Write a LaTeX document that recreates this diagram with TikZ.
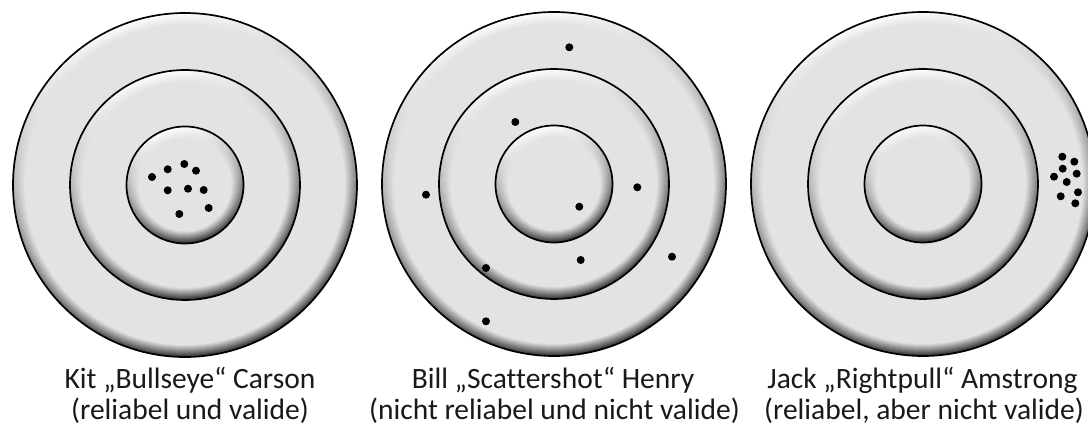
\documentclass[tikz,border=0pt]{standalone}
\usepackage{fontspec}
\setmainfont{Carlito}[Ligatures=CommonOff]
\definecolor{base}{gray}{0.89}
\colorlet{dk}{black!80}
\tikzset{
  dot/.style={circle, fill=black, inner sep=0pt, minimum size=8pt},
  ringline/.style={draw=black, line width=1.7pt},
  lbl/.style={font=\fontsize{29.5}{31}\selectfont, inner sep=0pt, anchor=base, text=black!90}
}
\newcommand\bevdisc[2]{%
  \foreach \k in {0,...,11}{%
    \pgfmathtruncatemacro\f{8.5*\k}%
    \pgfmathsetmacro\r{#2-\k}%
    \shade[top color=base!\f!white, bottom color=base!\f!dk, shading angle=15] (#1) circle[radius=\r pt];
  }
  \fill[base] (#1) circle[radius=#2pt-12pt];
  \draw[ringline] (#1) circle[radius=#2pt];
}
\newcommand\target[1]{%
  \bevdisc{#1}{172}
  \bevdisc{#1}{115}
  \bevdisc{#1}{58.5}
}
\begin{document}
\begin{tikzpicture}[x=1pt,y=-1pt]
\useasboundingbox (0,0) rectangle (1088,427);
\clip (0,0) rectangle (1088,427);
\fill[white] (0,0) rectangle (1088,427);
\coordinate (c1) at (185,185);
\coordinate (c2) at (554,184);
\coordinate (c3) at (923,184);
\target{c1}
\target{c2}
\target{c3}
% target 1 dots
\foreach \x/\y [count=\i] in {152/177, 167.7/169.3, 184.3/164, 196/170.7, 167.7/190.3, 188/188.7, 203.7/190, 179.3/214, 208.7/208}
  \node[dot] (a\i) at (\x,\y) {};
% target 2 dots
\foreach \x/\y [count=\i] in {569.3/47.3, 515.3/122, 426/194.7, 637.3/187.3, 579.3/206.7, 486/268, 580.7/260, 672/256.7, 486/321.3}
  \node[dot] (b\i) at (\x,\y) {};
% target 3 dots
\foreach \x/\y [count=\i] in {1062.3/156.7, 1074.3/161.7, 1062.7/168.7, 1076.7/173.7, 1054/176.7, 1066.7/182, 1060.7/196.3, 1078/192.3, 1075.3/203.3}
  \node[dot] (d\i) at (\x,\y) {};
% labels
\node[lbl] (t1a) at (190,389) {Kit „Bullseye“ Carson};
\node[lbl] (t1b) at (190,420) {(reliabel und valide)};
\node[lbl] (t2a) at (553,389) {Bill „Scattershot“ Henry};
\node[lbl] (t2b) at (554.5,420) {(nicht reliabel und nicht valide)};
\node[lbl] (t3a) at (922.5,389) {Jack „Rightpull“ Amstrong};
\node[lbl] (t3b) at (924,420) {(reliabel, aber nicht valide)};
\end{tikzpicture}
\end{document}
